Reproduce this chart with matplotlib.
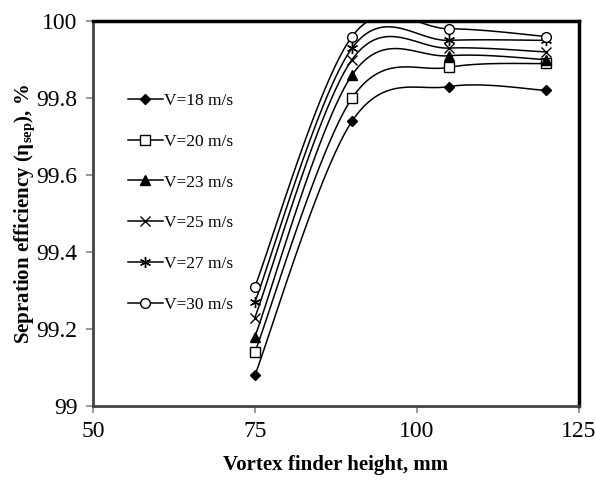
import numpy as np
import matplotlib
matplotlib.use('Agg')
import matplotlib.pyplot as plt

plt.rcParams['font.family'] = ['Liberation Serif', 'DejaVu Serif']
plt.rcParams['mathtext.fontset'] = 'custom'
plt.rcParams['mathtext.rm'] = 'Liberation Serif'
plt.rcParams['mathtext.bf'] = 'Liberation Serif:bold'

heights = [75, 90, 105, 120]
v18 = [99.08, 99.74, 99.83, 99.82]
v20 = [99.14, 99.80, 99.88, 99.89]
v23 = [99.18, 99.86, 99.91, 99.90]
v25 = [99.23, 99.90, 99.93, 99.92]
v27 = [99.27, 99.93, 99.95, 99.95]
v30 = [99.31, 99.96, 99.98, 99.96]
labels = ['V=18 m/s', 'V=20 m/s', 'V=23 m/s', 'V=25 m/s', 'V=27 m/s', 'V=30 m/s']


def smooth(x, y, n=40):
    # Excel style smoothed line (cubic bezier, catmull-rom tangents)
    p = np.column_stack([x, y]).astype(float)
    ext = np.vstack([p[0], p, p[-1]])
    out = []
    for i in range(len(p) - 1):
        p0, p1 = ext[i + 1], ext[i + 2]
        c1 = p0 + (ext[i + 2] - ext[i]) / 6
        c2 = p1 - (ext[i + 3] - ext[i + 1]) / 6
        t = np.linspace(0, 1, n)[:, None]
        seg = ((1 - t) ** 3) * p0 + 3 * ((1 - t) ** 2) * t * c1 + 3 * (1 - t) * t ** 2 * c2 + t ** 3 * p1
        out.append(seg)
    s = np.vstack(out)
    return s[:, 0], s[:, 1]


fig = plt.figure(figsize=(5.96, 4.8), dpi=100)
ax = fig.add_axes([0.156, 0.154, 0.815, 0.802])

series = [v18, v20, v23, v25, v27, v30]
markers = [
    dict(marker='D', ms=5.5, mfc='black', mec='black'),
    dict(marker='s', ms=7, mfc='white', mec='black', mew=1),
    dict(marker='^', ms=7, mfc='black', mec='black'),
    dict(marker='x', ms=7, mec='black', mew=1),
    dict(marker=(6, 2, 0), ms=8, mec='black', mew=1),
    dict(marker='o', ms=7, mfc='white', mec='black', mew=1),
]

for vals, lab, mk in zip(series, labels, markers):
    sx, sy = smooth(heights, vals)
    ax.plot(sx, sy, color='black', lw=1.1)
    ax.plot(heights, vals, ls='none', **mk)
    ax.plot([], [], color='black', lw=1.1, label=lab, **mk)

ax.set_xlim(50, 125)
ax.set_ylim(99, 100)
ax.set_xticks([50, 75, 100, 125])
ax.set_yticks([99, 99.2, 99.4, 99.6, 99.8, 100])
ax.set_yticklabels(['99', '99.2', '99.4', '99.6', '99.8', '100'])
ax.tick_params(labelsize=17, direction='out', length=5, width=1.2, color='#888888', pad=6)

for side in ['top', 'right']:
    ax.spines[side].set_linewidth(2.5)
    ax.spines[side].set_color('black')
for side in ['left', 'bottom']:
    ax.spines[side].set_linewidth(2)
    ax.spines[side].set_color('#444444')

ax.set_xlabel('Vortex finder height, mm', fontsize=15, fontweight='bold', labelpad=9)
ax.set_ylabel(r'Sepration efficiency ($\mathbf{\eta}_{\mathbf{sep}}$), %', fontsize=15,
              fontweight='bold', labelpad=-1)

ax.legend(loc='upper left', bbox_to_anchor=(0.058, 0.832), frameon=False, fontsize=12.5,
          handlelength=2.0, handletextpad=0.05, labelspacing=1.42, borderaxespad=0)

fig.savefig('out.png', dpi=100)
